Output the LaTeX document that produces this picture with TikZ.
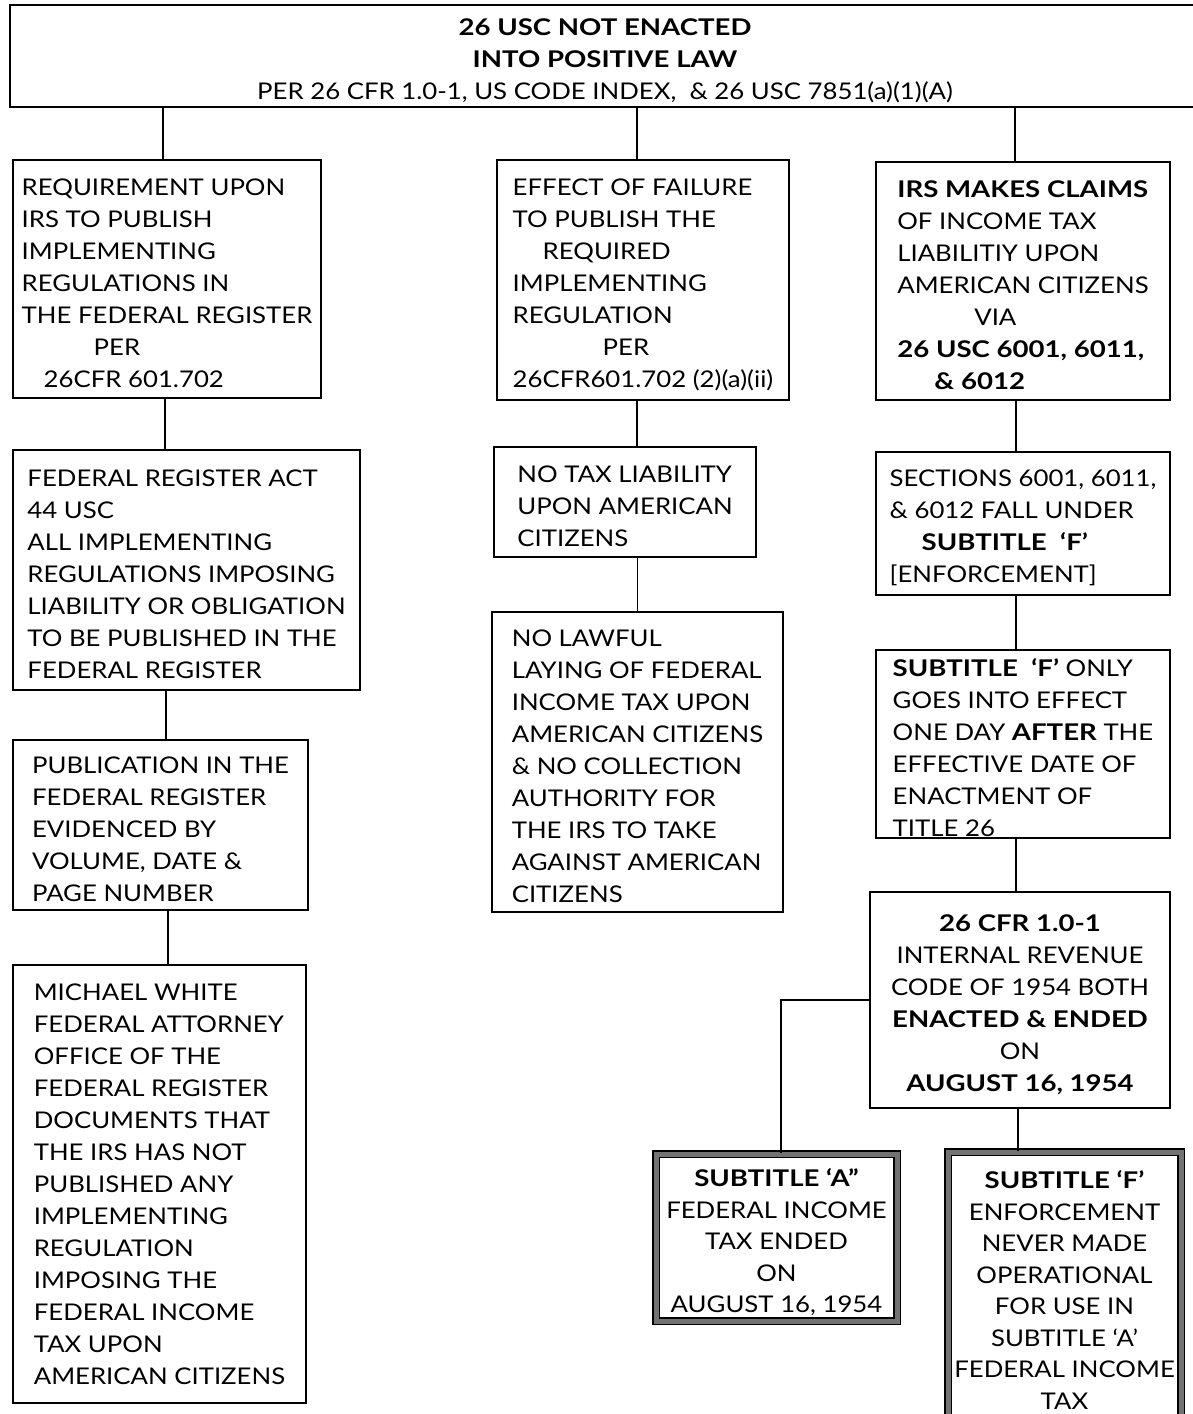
\documentclass[tikz,border=0pt]{standalone}
\usepackage{fontspec}
\setmainfont{Lato}[FakeStretch=1.12, BoldFeatures={FakeStretch=1.2}]
\newcommand\boxlift[1][26pt]{\rule{0pt}{#1}}
\tikzset{
  box/.style={draw, rectangle, line width=2pt, align=left, inner sep=0pt,
    font=\fontsize{23}{32}\selectfont},
  heavybox/.style={box, align=center, line width=1.5pt, double=black!55,
    double distance=5pt, font=\fontsize{23}{31.5}\selectfont},
  link/.style={line width=1.8pt},
}
\begin{document}
\begin{tikzpicture}[x=1pt, y=-1pt]
\useasboundingbox (0,0) rectangle (1192,1414);
% header
\node[box, align=center, minimum width=1190, minimum height=102] (top) at (605,56)
  {\boxlift\textbf{26 USC NOT ENACTED}\\ \textbf{INTO POSITIVE LAW}\\
   PER 26 CFR 1.0-1, US CODE INDEX, \ \& 26 USC 7851(a)(1)(A)};
% left column
\node[box, minimum width=308, minimum height=238] (req) at (167,279)
  {\boxlift REQUIREMENT UPON\\ IRS TO PUBLISH\\ IMPLEMENTING\\ REGULATIONS IN\\
   THE FEDERAL REGISTER\\ \hspace*{72pt}PER\\ \hspace*{22pt}26CFR 601.702};
\node[box, minimum width=347, minimum height=240] (act) at (186.5,570)
  {\boxlift FEDERAL REGISTER ACT\\ 44 USC\\ ALL IMPLEMENTING\\ REGULATIONS IMPOSING\\
   LIABILITY OR OBLIGATION\\ TO BE PUBLISHED IN THE\\ FEDERAL REGISTER};
\node[box, minimum width=295, minimum height=170] (pub) at (160.5,825)
  {\boxlift PUBLICATION IN THE\\ FEDERAL REGISTER\\ EVIDENCED BY\\ VOLUME, DATE \&\\ PAGE NUMBER};
\node[box, minimum width=293, minimum height=438] (white) at (159.5,1184)
  {MICHAEL WHITE\\ FEDERAL ATTORNEY\\ OFFICE OF THE\\ FEDERAL REGISTER\\
   DOCUMENTS THAT\\ THE IRS HAS NOT\\ PUBLISHED ANY\\ IMPLEMENTING\\ REGULATION\\
   IMPOSING THE\\ FEDERAL INCOME\\ TAX UPON\\ AMERICAN CITIZENS};
% middle column
\node[box, minimum width=292, minimum height=240] (effect) at (643,280)
  {\boxlift EFFECT OF FAILURE\\ TO PUBLISH THE\\ \hspace*{30pt}REQUIRED\\ IMPLEMENTING\\
   REGULATION\\ \hspace*{90pt}PER\\ 26CFR601.702 (2)(a)(ii)};
\node[box, minimum width=262, minimum height=110] (noliab) at (625,502)
  {\boxlift NO TAX LIABILITY\\ UPON AMERICAN\\ CITIZENS};
\node[box, minimum width=291, minimum height=300] (nolaw) at (637.5,762)
  {\boxlift NO LAWFUL\\ LAYING OF FEDERAL\\ INCOME TAX UPON\\ AMERICAN CITIZENS\\
   \& NO COLLECTION\\ AUTHORITY FOR\\ THE IRS TO TAKE\\ AGAINST AMERICAN\\ CITIZENS};
% right column
\node[box, minimum width=294, minimum height=238] (claims) at (1023,281)
  {\boxlift\textbf{IRS MAKES CLAIMS}\\ OF INCOME TAX\\ LIABILITIY UPON\\ AMERICAN CITIZENS\\
   \hspace*{77pt}VIA\\ \textbf{26 USC 6001, 6011,}\\ \hspace*{37pt}\textbf{\& 6012}};
\node[box, minimum width=294, minimum height=143] (sections) at (1023,523.5)
  {\boxlift SECTIONS 6001, 6011,\\ \& 6012 FALL UNDER\\
   \hspace*{32pt}\textbf{SUBTITLE \ ‘F’}\\ {[ENFORCEMENT]}};
\node[box, minimum width=294, minimum height=188] (subf) at (1023,744)
  {\boxlift\textbf{SUBTITLE \ ‘F’} ONLY\\ GOES INTO EFFECT\\ ONE DAY \textbf{AFTER} THE\\
   EFFECTIVE DATE OF\\ ENACTMENT OF\\ TITLE 26};
\node[box, align=center, minimum width=300, minimum height=216] (cfr) at (1020,1000)
  {\boxlift\textbf{26 CFR 1.0-1}\\ INTERNAL REVENUE\\ CODE OF 1954 BOTH\\
   \textbf{ENACTED \& ENDED}\\ ON\\ \textbf{AUGUST 16, 1954}};
% bottom boxes
\node[heavybox, minimum width=241, minimum height=167] (suba) at (776.5,1237.5)
  {\boxlift[28pt]\textbf{SUBTITLE ‘A”}\\ FEDERAL INCOME\\ TAX ENDED\\ ON\\ AUGUST 16, 1954};
\node[heavybox, minimum width=233, minimum height=276] (subfend) at (1064.5,1290)
  {\textbf{SUBTITLE ‘F’}\\ ENFORCEMENT\\ NEVER MADE\\ OPERATIONAL\\ FOR USE IN\\
   SUBTITLE ‘A’\\ FEDERAL INCOME\\ TAX};
% connectors
\draw[link] ([xshift=-4pt]req.north) -- ([xshift=-4pt]req.north |- top.south);
\draw[link] ([xshift=-6pt]effect.north) -- ([xshift=-6pt]effect.north |- top.south);
\draw[link] ([xshift=-8pt]claims.north) -- ([xshift=-8pt]claims.north |- top.south);
\draw[link] ([xshift=-2pt]req.south) -- ([xshift=-2pt]req.south |- act.north);
\draw[link] ([xshift=5.5pt]pub.north) -- ([xshift=5.5pt]pub.north |- act.south);
\draw[link] ([xshift=8.5pt]white.north) -- ([xshift=8.5pt]white.north |- pub.south);
\draw[link] ([xshift=12pt]noliab.north) -- ([xshift=12pt]noliab.north |- effect.south);
\draw[link] (nolaw.north) -- (nolaw.north |- noliab.south);
\draw[link] ([xshift=-7pt]claims.south) -- ([xshift=-7pt]claims.south |- sections.north);
\draw[link] ([xshift=-7pt]sections.south) -- ([xshift=-7pt]sections.south |- subf.north);
\draw[link] ([xshift=-4pt]cfr.north) -- ([xshift=-4pt]cfr.north |- subf.south);
\draw[link] (cfr.west) -| ([xshift=4.5pt]suba.north);
\draw[link] ([xshift=-2pt]cfr.south) -- ([xshift=-2pt]cfr.south |- subfend.north);
\end{tikzpicture}
\end{document}
